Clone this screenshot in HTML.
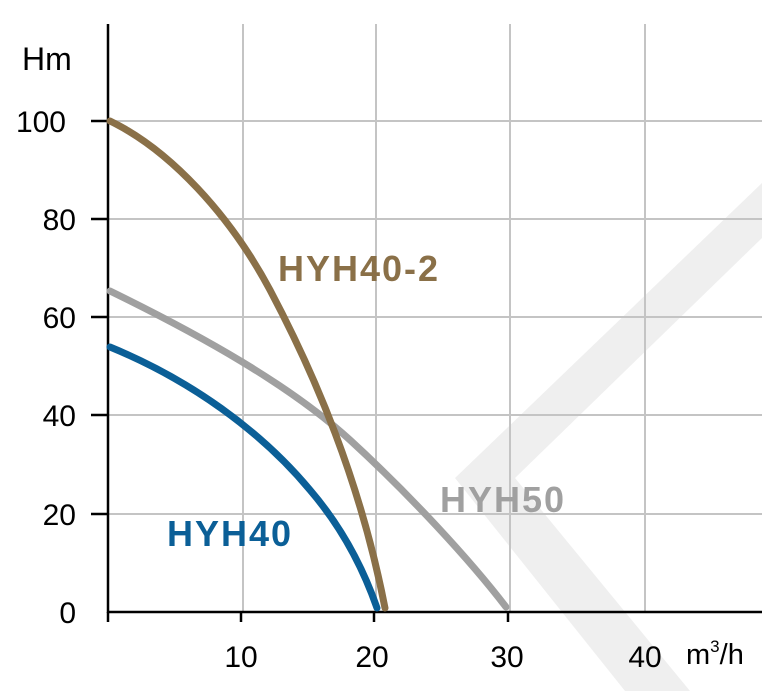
<!DOCTYPE html>
<html><head><meta charset="utf-8"><style>
html,body{margin:0;padding:0;background:#fff;}
svg{display:block;}
text{font-family:"Liberation Sans",sans-serif;}
</style></head><body>
<svg width="762" height="691" viewBox="0 0 762 691">
<polygon points="762,183 762,238 515,478 690,691 625,691 455,478" fill="#efefef"/>
<g stroke="#c4c4c4" stroke-width="2">
<line x1="243" y1="24" x2="243" y2="612"/>
<line x1="376" y1="24" x2="376" y2="612"/>
<line x1="510" y1="24" x2="510" y2="612"/>
<line x1="645" y1="24" x2="645" y2="612"/>
<line x1="108" y1="121" x2="762" y2="121"/>
<line x1="108" y1="219" x2="762" y2="219"/>
<line x1="108" y1="317" x2="762" y2="317"/>
<line x1="108" y1="415" x2="762" y2="415"/>
<line x1="108" y1="514" x2="762" y2="514"/>
</g>
<g stroke="#000" stroke-width="2.5">
<line x1="108" y1="24" x2="108" y2="613"/>
<line x1="107" y1="612" x2="762" y2="612"/>
<line x1="91" y1="121" x2="108" y2="121"/>
<line x1="91" y1="219" x2="108" y2="219"/>
<line x1="91" y1="317" x2="108" y2="317"/>
<line x1="91" y1="415" x2="108" y2="415"/>
<line x1="91" y1="514" x2="108" y2="514"/>
<line x1="108" y1="612" x2="108" y2="622"/>
<line x1="241" y1="612" x2="241" y2="622"/>
<line x1="374" y1="612" x2="374" y2="622"/>
<line x1="508" y1="612" x2="508" y2="622"/>
</g>
<g fill="none" stroke-width="7" stroke-linecap="round">
<path d="M110,291 C200,335 290,385 350,440 C410,495 470,560 506,607" stroke="#a0a0a0"/>
<path d="M110,121 C170,150 230,215 270,290 C315,375 360,480 385,608" stroke="#8a7048"/>
<path d="M110,347 C190,380 260,430 310,490 C340,525 362,565 377,608" stroke="#0b5f97"/>
</g>
<g font-size="30" fill="#000">
<text x="22" y="70" font-size="32">Hm</text>
<text x="66" y="132" text-anchor="end">100</text>
<text x="76" y="230" text-anchor="end">80</text>
<text x="76" y="328" text-anchor="end">60</text>
<text x="76" y="426" text-anchor="end">40</text>
<text x="76" y="525" text-anchor="end">20</text>
<text x="76" y="623" text-anchor="end">0</text>
<text x="241" y="667" text-anchor="middle">10</text>
<text x="372" y="667" text-anchor="middle">20</text>
<text x="507" y="667" text-anchor="middle">30</text>
<text x="645" y="667" text-anchor="middle">40</text>
<text x="686" y="664" font-size="29">m<tspan font-size="17" dy="-12">3</tspan><tspan dy="12">/h</tspan></text>
</g>
<g font-size="36" font-weight="bold" letter-spacing="2">
<text x="278" y="281" fill="#8a7048">HYH40-2</text>
<text x="440" y="512" fill="#a0a0a0">HYH50</text>
<text x="167" y="546" fill="#0b5f97">HYH40</text>
</g>
</svg>
</body></html>
